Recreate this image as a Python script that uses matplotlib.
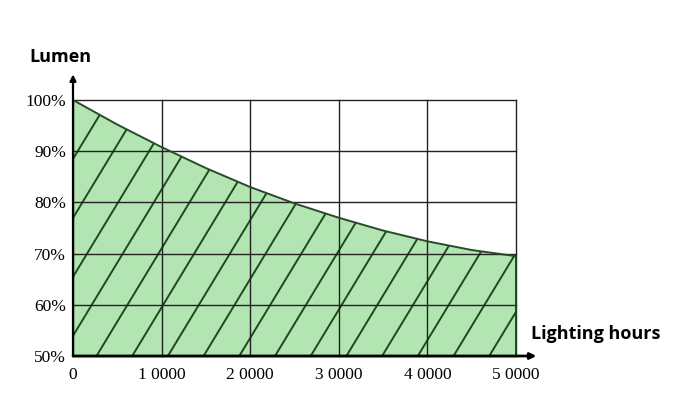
import numpy as np
import matplotlib.pyplot as plt
from matplotlib.patches import Polygon

# lumen maintenance (hours -> % of initial lumen)
hours = [0, 5000, 10000, 15000, 20000, 25000, 30000, 35000, 40000, 45000, 50000]
lumen = [100, 95.2, 90.8, 86.7, 83.0, 79.8, 77.0, 74.5, 72.4, 70.7, 69.5]

x_ticks = [0, 10000, 20000, 30000, 40000, 50000]
x_labels = ["0", "1 0000", "2 0000", "3 0000", "4 0000", "5 0000"]
y_ticks = [50, 60, 70, 80, 90, 100]
y_labels = ["50%", "60%", "70%", "80%", "90%", "100%"]

fill_col = "#b3e5b3"
dark_green = "#1b4a1b"

fig = plt.figure(figsize=(6.76, 4.13), dpi=100)
ax = fig.add_axes([73 / 676, 57 / 413, 443 / 676, 256 / 413])
ax.set_xlim(0, 50000)
ax.set_ylim(50, 100)

# shaded area under the curve
verts = [(0, 50)] + list(zip(hours, lumen)) + [(50000, 50)]
area = Polygon(verts, closed=True, facecolor=fill_col, edgecolor="none", zorder=1)
ax.add_patch(area)

# diagonal hatching, clipped to the shaded area
for k in range(-6, 13):
    x0 = 2650 + k * 4030
    ln, = ax.plot([x0, x0 + 17500], [50, 100], color=dark_green, lw=1.4, zorder=2)
    ln.set_clip_path(area)

# grid
ax.set_xticks(x_ticks)
ax.set_yticks(y_ticks)
ax.grid(True, color="#222222", lw=1.0, zorder=3)
ax.set_axisbelow(False)
for g in ax.get_xgridlines() + ax.get_ygridlines():
    g.set_clip_on(False)
ax.tick_params(length=0)
ax.tick_params(axis="x", pad=8)
ax.tick_params(axis="y", pad=5)
ax.set_xticklabels(x_labels, family="Liberation Serif", fontsize=12.5)
ax.set_yticklabels(y_labels, family="Liberation Serif", fontsize=12.5)
for s in ax.spines.values():
    s.set_visible(False)

# curve and right edge of the area
ax.plot(hours, lumen, color="#2b4a2b", lw=1.4, zorder=4)
ax.plot([50000, 50000], [50, lumen[-1]], color=dark_green, lw=1.4, zorder=4,
        clip_on=False)

# axes with arrows
ax.annotate("", xy=(0, 105), xytext=(0, 50), xycoords="data",
            arrowprops=dict(arrowstyle="-|>", color="black", lw=1.6,
                            mutation_scale=9, shrinkA=0, shrinkB=0),
            annotation_clip=False, zorder=5)
ax.annotate("", xy=(52300, 50), xytext=(0, 50), xycoords="data",
            arrowprops=dict(arrowstyle="-|>", color="black", lw=2.0,
                            mutation_scale=9, shrinkA=0, shrinkB=0),
            annotation_clip=False, zorder=5)

fig.text(60 / 676, 1 - 57 / 413, "Lumen", family="Open Sans", weight="bold",
         fontsize=13, ha="center", va="center")
fig.text(596 / 676, 1 - 334 / 413, "Lighting hours", family="Open Sans",
         weight="bold", fontsize=13, ha="center", va="center")

fig.savefig("out.png", dpi=100)
